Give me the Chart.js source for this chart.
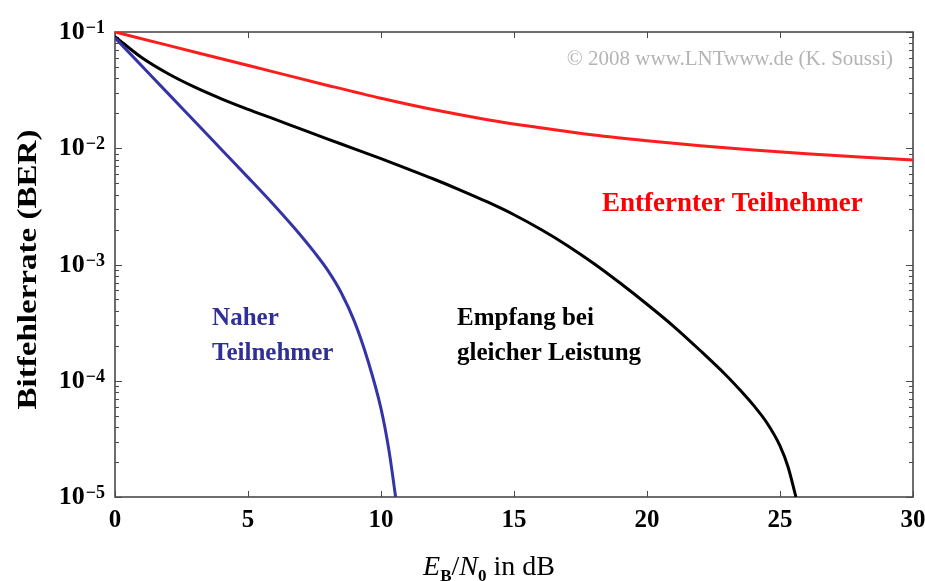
<!DOCTYPE html>
<html>
<head>
<meta charset="utf-8">
<script src="https://cdn.jsdelivr.net/npm/chart.js@4"></script>
<style>
  html, body { margin: 0; padding: 0; background: #fff; }
  canvas { display: block; }
</style>
</head>
<body>
<canvas id="ber" width="925" height="581"></canvas>
<script>
// Eb/N0 in dB and bit error rate per curve
const snrNear = [0, 1, 2, 3, 4, 5, 6, 7, 7.5, 8, 8.5, 9, 9.5, 10, 10.3, 10.55];
const berNear = [0.0891, 0.0513, 0.0295, 0.0170, 0.00977, 0.00562, 0.00320, 0.00176,
                 0.00127, 0.000891, 0.000575, 0.000324, 0.000151, 5.75e-5, 2.51e-5, 1.0e-5];

const snrEqual = [0, 1, 2, 3, 4, 5, 6, 7, 8, 9, 10, 11, 12, 13, 14, 15, 16, 17, 18, 19,
                  20, 21, 22, 23, 23.5, 24, 24.5, 25, 25.3, 25.6];
const berEqual = [0.0912, 0.0603, 0.0437, 0.0335, 0.0266, 0.0216, 0.0178, 0.0146, 0.0120,
                  0.00989, 0.00813, 0.00665, 0.00541, 0.00435, 0.00345, 0.00268, 0.00201,
                  0.00146, 0.00102, 0.000689, 0.000455, 0.000294, 0.000182, 0.000110,
                  8.32e-5, 6.17e-5, 4.37e-5, 2.75e-5, 1.82e-5, 1.0e-5];

const snrFar = [0, 2, 4, 6, 8, 10, 12, 14, 16, 18, 20, 22, 24, 26, 28, 30];
const berFar = [0.1, 0.0767, 0.0589, 0.0452, 0.0347, 0.0269, 0.0214, 0.0176, 0.0150,
                0.0130, 0.0116, 0.0105, 0.00966, 0.00898, 0.00841, 0.00794];

const xTicks = [0, 5, 10, 15, 20, 25, 30];
const yDecades = [-1, -2, -3, -4, -5];

const colNear = '#3434a6';
const colEqual = '#000000';
const colFar = '#ff1c1c';

// text labels inside the plot (anchor = left end of baseline, in data units)
const notes = [
  { text: 'Naher', x: 3.65, y: 3.0e-4, color: '#2f2f96', size: 25 },
  { text: 'Teilnehmer', x: 3.65, y: 1.5e-4, color: '#2f2f96', size: 25 },
  { text: 'Empfang bei', x: 12.86, y: 3.0e-4, color: '#000', size: 25 },
  { text: 'gleicher Leistung', x: 12.86, y: 1.5e-4, color: '#000', size: 25 },
  { text: 'Entfernter Teilnehmer', x: 18.31, y: 2.9e-3, color: '#ff0000', size: 27 }
];

const SERIF = '"Liberation Serif", "DejaVu Serif", serif';

const pts = (xs, ys) => xs.map((v, i) => ({ x: v, y: ys[i] }));

const framePlugin = {
  id: 'frame',
  beforeDatasetsDraw(chart) {
    const { ctx, chartArea: a, scales: { x, y } } = chart;
    ctx.save();
    ctx.strokeStyle = '#4a4a4a';
    ctx.lineWidth = 1;
    const seg = (x1, y1, x2, y2) => {
      ctx.beginPath(); ctx.moveTo(x1, y1); ctx.lineTo(x2, y2); ctx.stroke();
    };
    xTicks.forEach(v => {
      const px = Math.round(x.getPixelForValue(v)) + 0.5;
      seg(px, a.bottom, px, a.bottom - 6);
      seg(px, a.top, px, a.top + 6);
    });
    // log minor ticks, left and right
    for (let e = -5; e <= -1; e++) {
      for (let m = 1; m < 10; m++) {
        if (e === -1 && m > 1) break;
        const py = Math.round(y.getPixelForValue(m * Math.pow(10, e))) + 0.5;
        const len = m === 1 ? 7 : 4;
        seg(a.left, py, a.left + len, py);
        seg(a.right, py, a.right - len, py);
      }
    }
    ctx.lineWidth = 1.6;
    ctx.strokeRect(a.left, a.top, a.right - a.left, a.bottom - a.top);
    ctx.restore();
  },
  afterDraw(chart) {
    const { ctx, chartArea: a, scales: { x, y } } = chart;
    ctx.save();
    ctx.fillStyle = '#000';
    ctx.textBaseline = 'alphabetic';

    // y tick labels 10^k
    yDecades.forEach(k => {
      const py = y.getPixelForValue(Math.pow(10, k));
      ctx.font = 'bold 18px ' + SERIF;
      const ex = '\u2212' + (-k);
      const ew = ctx.measureText(ex).width;
      const exRight = a.left - 10;
      ctx.textAlign = 'left';
      ctx.fillText(ex, exRight - ew, py + 1);
      ctx.font = 'bold 26px ' + SERIF;
      ctx.textAlign = 'right';
      ctx.fillText('10', exRight - ew - 1, py + 7);
    });

    // y axis title, stretched to the length seen in the picture
    ctx.save();
    ctx.translate(36, (a.top + a.bottom) / 2 + 5);
    ctx.rotate(-Math.PI / 2);
    ctx.font = 'bold 27px ' + SERIF;
    const yt = 'Bitfehlerrate (BER)';
    const yw = ctx.measureText(yt).width;
    ctx.scale(280 / yw, 1);
    ctx.textAlign = 'center';
    ctx.fillText(yt, 0, 0);
    ctx.restore();

    // x axis title: E_B / N_0 in dB
    const parts = [
      { t: 'E', f: 'italic 28px ' + SERIF, dy: 0 },
      { t: 'B', f: 'bold 17px ' + SERIF, dy: 6 },
      { t: '/', f: '28px ' + SERIF, dy: 0 },
      { t: 'N', f: 'italic 28px ' + SERIF, dy: 0 },
      { t: '0', f: 'bold 17px ' + SERIF, dy: 6 },
      { t: ' in dB', f: '28px ' + SERIF, dy: 0 }
    ];
    let tw = 0;
    parts.forEach(p => { ctx.font = p.f; p.w = ctx.measureText(p.t).width; tw += p.w; });
    let cx = (a.left + a.right) / 2 - 25 - tw / 2;
    ctx.textAlign = 'left';
    parts.forEach(p => {
      ctx.font = p.f;
      ctx.fillText(p.t, cx, a.bottom + 78 + p.dy);
      cx += p.w;
    });

    // annotations
    notes.forEach(n => {
      ctx.font = 'bold ' + n.size + 'px ' + SERIF;
      ctx.fillStyle = n.color;
      ctx.fillText(n.text, x.getPixelForValue(n.x), y.getPixelForValue(n.y));
    });

    // copyright
    ctx.fillStyle = '#b4b4b4';
    ctx.font = '21px ' + SERIF;
    ctx.textAlign = 'right';
    ctx.fillText('\u00a9 2008 www.LNTwww.de (K. Soussi)', a.right - 20, a.top + 33);
    ctx.restore();
  }
};

const lineStyle = color => ({
  borderColor: color,
  backgroundColor: color,
  borderWidth: 3,
  pointRadius: 0,
  fill: false,
  cubicInterpolationMode: 'monotone'
});

new Chart(document.getElementById('ber'), {
  type: 'line',
  data: {
    datasets: [
      { label: 'Naher Teilnehmer', data: pts(snrNear, berNear), ...lineStyle(colNear) },
      { label: 'Empfang bei gleicher Leistung', data: pts(snrEqual, berEqual), ...lineStyle(colEqual) },
      { label: 'Entfernter Teilnehmer', data: pts(snrFar, berFar), ...lineStyle(colFar) }
    ]
  },
  options: {
    responsive: false,
    animation: false,
    devicePixelRatio: 1,
    layout: { padding: { top: 32, right: 12, left: 0, bottom: 0 } },
    plugins: { legend: { display: false }, tooltip: { enabled: false } },
    scales: {
      x: {
        type: 'linear',
        min: 0,
        max: 30,
        grid: { display: false, drawTicks: false },
        border: { display: false },
        afterBuildTicks: s => { s.ticks = xTicks.map(v => ({ value: v })); },
        ticks: {
          color: '#000',
          padding: 9,
          maxRotation: 0,
          font: { family: SERIF, size: 25, weight: 'bold' }
        },
        afterFit: s => { s.height = 84; s.paddingLeft = 0; s.paddingRight = 0; }
      },
      y: {
        type: 'logarithmic',
        min: 1e-5,
        max: 1e-1,
        grid: { display: false, drawTicks: false },
        border: { display: false },
        ticks: { display: false },
        afterFit: s => { s.width = 115; s.paddingTop = 0; s.paddingBottom = 0; }
      }
    }
  },
  plugins: [framePlugin]
});
</script>
</body>
</html>
